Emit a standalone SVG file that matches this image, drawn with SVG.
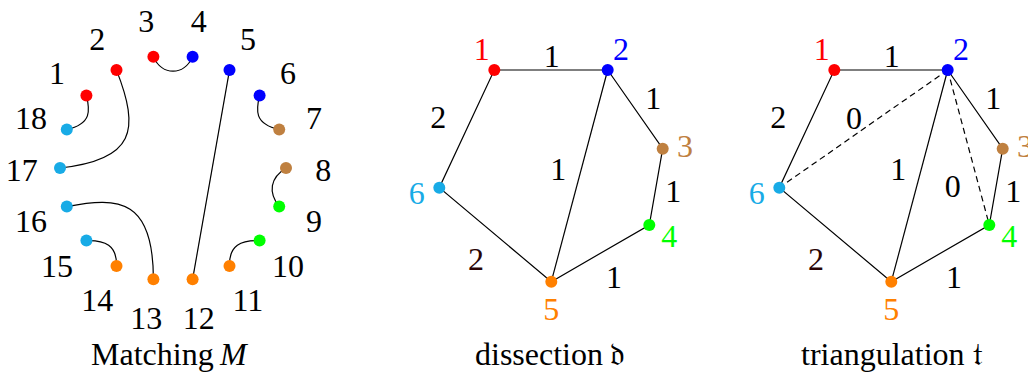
<svg xmlns="http://www.w3.org/2000/svg" width="1028" height="376" viewBox="0 0 1028 376">
<style>
text{font-size:32px;text-anchor:middle;fill:#000}
.cap{text-anchor:start}
.c{fill:none;stroke:#000;stroke-width:1.2}
.d{stroke-dasharray:6,4}
.r{fill:#ff0000}.b{fill:#0000ff}.br{fill:#bf8040}.g{fill:#00ff00}.o{fill:#ff8000}.cy{fill:#18abe6}
.dk{fill:#2a0505}
</style>
<rect width="1028" height="376" fill="#fff"/>
<g id="connectors">
<path class="c" d="M86.4,95.4 C90,110 92,124 66.8,129.4"/>
<path class="c" d="M259.6,95.4 C256,110 254,124 279.2,129.4"/>
<path class="c" d="M153.4,56.7 C162,76 184,76 192.6,56.7"/>
<path class="c" d="M116.5,70.1 C140,130 135,160 60,168"/>
<path class="c" d="M66.8,206.6 C120,196 153.4,200 153.4,279.3"/>
<path class="c" d="M229.5,70.1 L192.6,279.3"/>
<path class="c" d="M286,168 C270,178 268,192 279.2,206.6"/>
<path class="c" d="M86.4,240.6 C105,240 117,245 116.5,265.9"/>
<path class="c" d="M259.6,240.6 C241,240 229,245 229.5,265.9"/>
<path class="c" d="M494.3,70 L607.7,70 L662.7,148.7 L649.3,225 L551.3,281.7 L439.3,187.7 Z"/>
<path class="c" d="M607.7,70 L551.3,281.7"/>
<path class="c" d="M834.3,70 L947.7,70 L1002.7,148.7 L989.3,225 L891.3,281.7 L779.3,187.7 Z"/>
<path class="c" d="M947.7,70 L891.3,281.7"/>
<path class="c d" d="M947.7,70 L779.3,187.7"/>
<path class="c d" d="M947.7,70 L989.3,225"/>
</g>
<g font-family="'Liberation Serif', 'Times New Roman', serif">
<g id="matching">
<g id="m1"><circle class="r" cx="86.4" cy="95.4" r="6"/><text x="57.1" y="83.5">1</text></g>
<g id="m2"><circle class="r" cx="116.5" cy="70.1" r="6"/><text x="97.2" y="50">2</text></g>
<g id="m3"><circle class="r" cx="153.4" cy="56.7" r="6"/><text x="146.3" y="32">3</text></g>
<g id="m4"><circle class="b" cx="192.6" cy="56.7" r="6"/><text x="198.7" y="32">4</text></g>
<g id="m5"><circle class="b" cx="229.5" cy="70.1" r="6"/><text x="247.9" y="50">5</text></g>
<g id="m6"><circle class="b" cx="259.6" cy="95.4" r="6"/><text x="287.9" y="83.5">6</text></g>
<g id="m7"><circle class="br" cx="279.2" cy="129.4" r="6"/><text x="314.1" y="129">7</text></g>
<g id="m8"><circle class="br" cx="286" cy="168" r="6"/><text x="323.2" y="180.5">8</text></g>
<g id="m9"><circle class="g" cx="279.2" cy="206.6" r="6"/><text x="314.1" y="232">9</text></g>
<g id="m10"><circle class="g" cx="259.6" cy="240.6" r="6"/><text x="287.9" y="277.4">10</text></g>
<g id="m11"><circle class="o" cx="229.5" cy="265.9" r="6"/><text x="247.9" y="311">11</text></g>
<g id="m12"><circle class="o" cx="192.6" cy="279.3" r="6"/><text x="198.7" y="329">12</text></g>
<g id="m13"><circle class="o" cx="153.4" cy="279.3" r="6"/><text x="146.3" y="329">13</text></g>
<g id="m14"><circle class="o" cx="116.5" cy="265.9" r="6"/><text x="97.2" y="311">14</text></g>
<g id="m15"><circle class="cy" cx="86.4" cy="240.6" r="6"/><text x="57.1" y="277.4">15</text></g>
<g id="m16"><circle class="cy" cx="66.8" cy="206.6" r="6"/><text x="30.9" y="232">16</text></g>
<g id="m17"><circle class="cy" cx="60" cy="168" r="6"/><text x="21.8" y="180.5">17</text></g>
<g id="m18"><circle class="cy" cx="66.8" cy="129.4" r="6"/><text x="30.9" y="129">18</text></g>
<text class="cap" x="91" y="365">Matching <tspan x="220" font-style="italic">M</tspan></text>
</g>
<g id="dissection">
<g id="d1"><circle class="r" cx="494.3" cy="70" r="6"/><text class="r" x="481.7" y="60">1</text></g>
<g id="d2"><circle class="b" cx="607.7" cy="70" r="6"/><text class="b" x="621" y="60">2</text></g>
<g id="d3"><circle class="br" cx="662.7" cy="148.7" r="6"/><text class="br" x="685" y="157">3</text></g>
<g id="d4"><circle class="g" cx="649.3" cy="225" r="6"/><text class="g" x="669.3" y="247">4</text></g>
<g id="d5"><circle class="o" cx="551.3" cy="281.7" r="6"/><text class="o" x="551.3" y="320">5</text></g>
<g id="d6"><circle class="cy" cx="439.3" cy="187.7" r="6"/><text class="cy" x="416.7" y="203.5">6</text></g>
<text x="551.7" y="67">1</text>
<text x="653.3" y="109">1</text>
<text x="438.3" y="128">2</text>
<text x="558.3" y="180">1</text>
<text x="673.3" y="202">1</text>
<text class="dk" x="476" y="269.5">2</text>
<text x="614" y="287.5">1</text>
<text class="cap" x="475" y="365" font-size="30">dissection</text>
<text class="cap" x="610" y="365" font-family="'DejaVu Serif', 'DejaVu Sans', serif">𝔡</text>
</g>
<g id="triangulation">
<g id="t1"><circle class="r" cx="834.3" cy="70" r="6"/><text class="r" x="821.7" y="60">1</text></g>
<g id="t2"><circle class="b" cx="947.7" cy="70" r="6"/><text class="b" x="961" y="60">2</text></g>
<g id="t3"><circle class="br" cx="1002.7" cy="148.7" r="6"/><text class="br" x="1025" y="157">3</text></g>
<g id="t4"><circle class="g" cx="989.3" cy="225" r="6"/><text class="g" x="1009.3" y="247">4</text></g>
<g id="t5"><circle class="o" cx="891.3" cy="281.7" r="6"/><text class="o" x="891.3" y="320">5</text></g>
<g id="t6"><circle class="cy" cx="779.3" cy="187.7" r="6"/><text class="cy" x="756.7" y="203.5">6</text></g>
<text x="891.7" y="67">1</text>
<text x="993.3" y="109">1</text>
<text x="778.3" y="128">2</text>
<text x="898.3" y="180">1</text>
<text x="1013.3" y="202">1</text>
<text class="dk" x="816" y="269.5">2</text>
<text x="954" y="287.5">1</text>
<text x="854" y="129">0</text>
<text x="952.7" y="197">0</text>
<text class="cap" x="801" y="365">triangulation</text>
<text class="cap" x="973" y="365" font-family="'DejaVu Serif', 'DejaVu Sans', serif">𝔱</text>
</g>
</g>
</svg>
